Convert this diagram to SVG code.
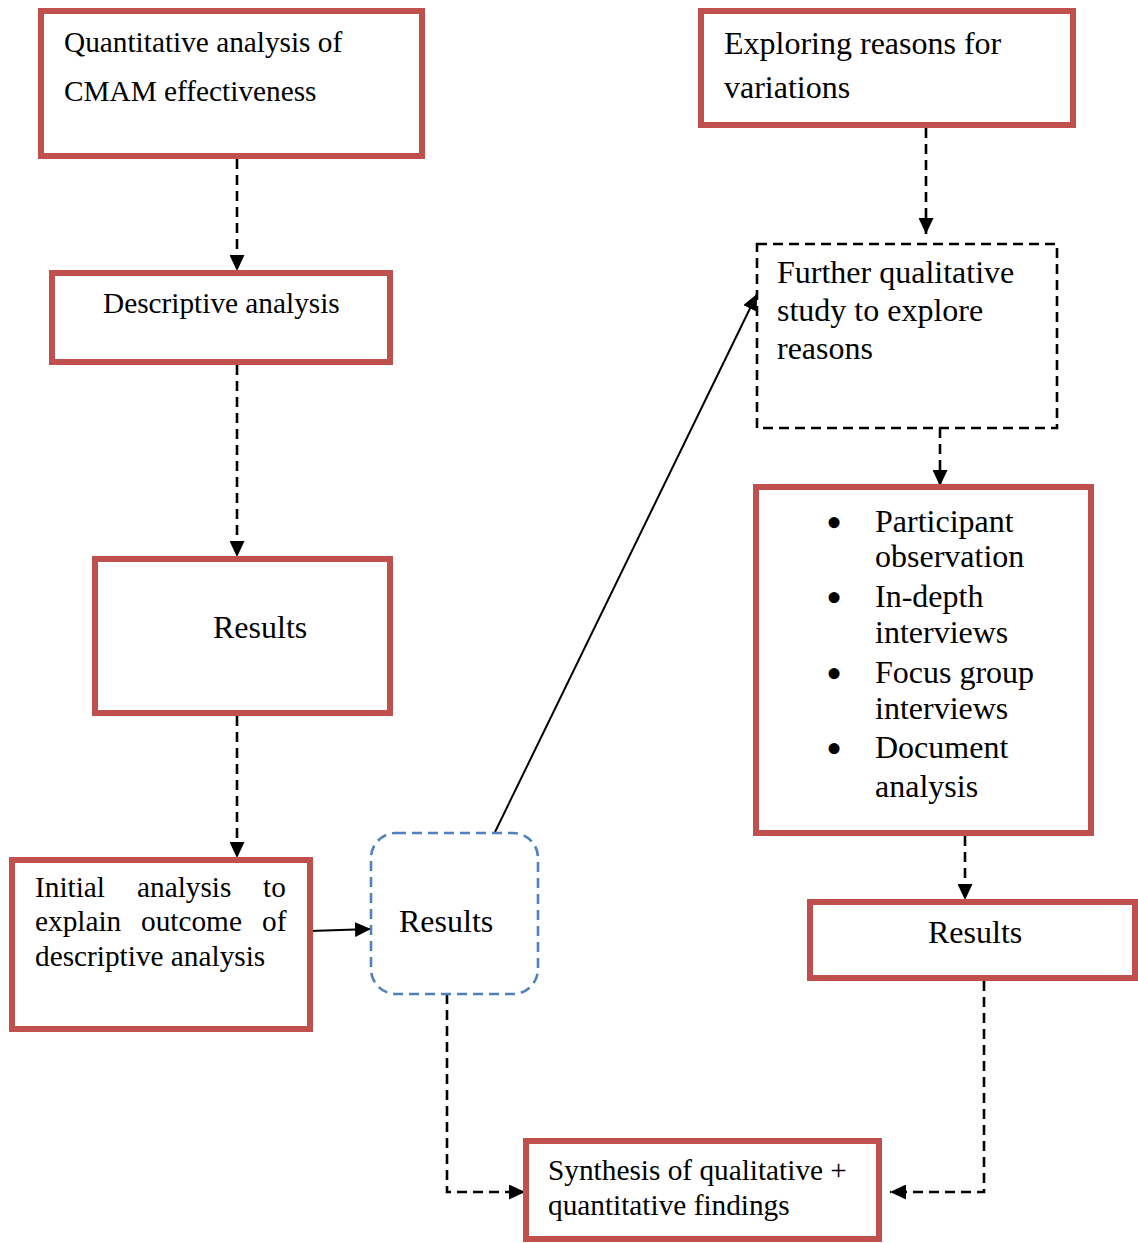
<svg xmlns="http://www.w3.org/2000/svg" width="1138" height="1243" viewBox="0 0 1138 1243">
<style>
.box{fill:#fff;stroke:#c0504d;stroke-width:6}
.dbox{fill:#fff;stroke:#000;stroke-width:2.6;stroke-dasharray:10 6}
.bbox{fill:#fff;stroke:#4f81bd;stroke-width:2.6;stroke-dasharray:10 6}
.t{font-family:"Liberation Serif","Times New Roman",serif;fill:#000}
.s29{font-size:29.3px}
.s32{font-size:32px}
.bul{font-size:46px}
.dash{fill:none;stroke:#000;stroke-width:2.6;stroke-dasharray:10 6}
.solid{fill:none;stroke:#000;stroke-width:2}
</style>
<defs>
<marker id="ah" markerUnits="userSpaceOnUse" markerWidth="16" markerHeight="15" refX="16" refY="7.5" orient="auto">
<path d="M0,0 L16,7.5 L0,15 z" fill="#000"/>
</marker>
</defs>
<rect width="1138" height="1243" fill="#fff"/>
<g id="connectors">
<line class="dash" x1="237" y1="159" x2="237" y2="271" marker-end="url(#ah)"/>
<line class="dash" x1="237" y1="365" x2="237" y2="557" marker-end="url(#ah)"/>
<line class="dash" x1="237" y1="716" x2="237" y2="858" marker-end="url(#ah)"/>
<line class="solid" x1="310" y1="931" x2="371" y2="929" marker-end="url(#ah)"/>
<line class="solid" x1="495" y1="832" x2="757" y2="294" marker-end="url(#ah)"/>
<line class="dash" x1="926" y1="128" x2="926" y2="234" marker-end="url(#ah)"/>
<line class="dash" x1="940" y1="428" x2="940" y2="486" marker-end="url(#ah)"/>
<line class="dash" x1="965" y1="836" x2="965" y2="900" marker-end="url(#ah)"/>
<path class="dash" d="M447,994 V1192 H525" marker-end="url(#ah)"/>
<path class="dash" d="M984,981 V1192 H890" marker-end="url(#ah)"/>
</g>
<g id="n-quant">
<rect class="box" x="41" y="11" width="381" height="145"/>
<text class="t s29" x="64" y="52">Quantitative analysis of</text>
<text class="t s29" x="64" y="101">CMAM effectiveness</text>
</g>
<g id="n-desc">
<rect class="box" x="52" y="273" width="338" height="89"/>
<text class="t s29" x="103" y="313">Descriptive analysis</text>
</g>
<g id="n-results1">
<rect class="box" x="95" y="559" width="295" height="154"/>
<text class="t s32" x="213" y="638">Results</text>
</g>
<g id="n-initial">
<rect class="box" x="12" y="860" width="298" height="169"/>
<text class="t s29" y="897"><tspan x="35">Initial</tspan><tspan x="137">analysis</tspan><tspan x="263">to</tspan></text>
<text class="t s29" y="931"><tspan x="35">explain</tspan><tspan x="141">outcome</tspan><tspan x="262">of</tspan></text>
<text class="t s29" x="35" y="966">descriptive analysis</text>
</g>
<g id="n-results2">
<rect class="bbox" x="371" y="833" width="167" height="161" rx="25" ry="25"/>
<text class="t s32" x="399" y="932">Results</text>
</g>
<g id="n-explore">
<rect class="box" x="701" y="11" width="372" height="114"/>
<text class="t s32" x="724" y="54">Exploring reasons for</text>
<text class="t s32" x="724" y="98">variations</text>
</g>
<g id="n-further">
<rect class="dbox" x="757" y="244" width="300" height="184"/>
<text class="t s32" x="777" y="283">Further qualitative</text>
<text class="t s32" x="777" y="321">study to explore</text>
<text class="t s32" x="777" y="359">reasons</text>
</g>
<g id="n-methods">
<rect class="box" x="756" y="487" width="335" height="346"/>
<text class="t bul" x="834" y="538" text-anchor="middle">•</text>
<text class="t s32" x="875" y="532">Participant</text>
<text class="t s32" x="875" y="567">observation</text>
<text class="t bul" x="834" y="613" text-anchor="middle">•</text>
<text class="t s32" x="875" y="607">In-depth</text>
<text class="t s32" x="875" y="643">interviews</text>
<text class="t bul" x="834" y="689" text-anchor="middle">•</text>
<text class="t s32" x="875" y="683">Focus group</text>
<text class="t s32" x="875" y="719">interviews</text>
<text class="t bul" x="834" y="764" text-anchor="middle">•</text>
<text class="t s32" x="875" y="758">Document</text>
<text class="t s32" x="875" y="797">analysis</text>
</g>
<g id="n-results3">
<rect class="box" x="810" y="902" width="325" height="76"/>
<text class="t s32" x="928" y="943">Results</text>
</g>
<g id="n-synth">
<rect class="box" x="526" y="1141" width="353" height="98"/>
<text class="t s29" x="548" y="1180">Synthesis of qualitative +</text>
<text class="t s29" x="548" y="1215">quantitative findings</text>
</g>
</svg>
